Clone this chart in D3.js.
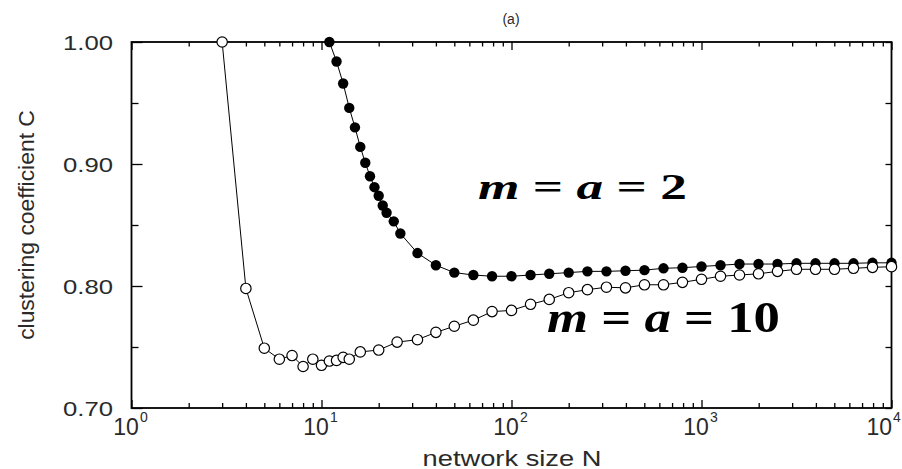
<!DOCTYPE html>
<html>
<head>
<meta charset="utf-8">
<script src="https://cdn.jsdelivr.net/npm/d3@7"></script>
<style>
  html, body { margin: 0; padding: 0; background: #fff; }
  svg { display: block; }
</style>
</head>
<body>
<svg id="chart" width="902" height="469"></svg>
<script>
// ---- data ----
const filledN = [11,12,13,14,15,16,17,18,19,20,21,22,24,26,32,40,
  50,63,79,100,126,158,200,251,316,398,501,631,794,1000,1259,1585,1995,2512,3162,3981,5012,6310,7943,10000];
const filledC = [1.000,0.984,0.966,0.946,0.930,0.914,0.901,0.890,0.881,0.874,0.866,0.860,0.853,0.843,0.827,0.817,
  0.811,0.809,0.808,0.808,0.809,0.810,0.811,0.812,0.812,0.8125,0.813,0.8145,0.815,0.816,0.817,0.818,0.818,0.818,0.8186,0.8186,0.8186,0.8186,0.819,0.819];

const openN = [3,4,5,6,7,8,9,10,11,12,13,14,16,20,25,32,40,
  50,63,79,100,126,158,200,251,316,398,501,631,794,1000,1259,1585,1995,2512,3162,3981,5012,6310,7943,10000];
const openC = [1.000,0.798,0.749,0.740,0.743,0.734,0.740,0.735,0.7385,0.739,0.7415,0.740,0.746,0.7475,0.754,0.756,0.762,
  0.767,0.772,0.779,0.780,0.785,0.789,0.7945,0.797,0.799,0.7985,0.801,0.801,0.803,0.8055,0.808,0.809,0.810,0.812,0.8137,0.8137,0.8137,0.8145,0.8153,0.8158];

const xMajorTicks = [1,10,100,1000,10000];
const xTickBase = ["10","10","10","10","10"];
const xTickExp = ["0","1","2","3","4"];
const xMinorTicks = [];
[1,10,100,1000].forEach(d => { for (let k = 2; k <= 9; k++) xMinorTicks.push(d*k); });
const yMajorTicks = [0.70,0.80,0.90,1.00];
const yTickLabels = ["0.70","0.80","0.90","1.00"];
const yMinorTicks = [0.75,0.85,0.95];

const xTitle = "network size N";
const yTitle = "clustering coefficient C";
const panelLabel = "(a)";

// ---- layout ----
const W = 902;
const L = 131.5, R = 891.5, T = 42, B = 408;
const svg = d3.select("#chart");
const x = d3.scaleLog().domain([1, 10000]).range([L, R]);
const y = d3.scaleLinear().domain([0.70, 1.00]).range([B, T]);

const textColor = "#2a2a2a";
const sans = "'Liberation Sans', Arial, sans-serif";

// helper: scale text horizontally to a target width
function fitWidth(sel, target, anchorX, baseY, anchor) {
  const w = sel.node().getBBox().width;
  const s = target / w;
  sel.attr("x", 0).attr("y", 0).attr("text-anchor", anchor || "start");
  sel.attr("transform", `translate(${anchorX},${baseY}) scale(${s},1)`);
}

// ---- axes (ticks inward) ----
function drawAxis(axis, transform) {
  const g = svg.append("g").attr("transform", transform).call(axis);
  g.select(".domain").remove();
  g.selectAll("text").remove();
  g.selectAll("line").attr("stroke", "#000").attr("stroke-width", 1.3);
  return g;
}
drawAxis(d3.axisBottom(x).tickValues(xMajorTicks).tickSize(-8), `translate(0,${B})`);
drawAxis(d3.axisBottom(x).tickValues(xMinorTicks).tickSize(-5), `translate(0,${B})`);
drawAxis(d3.axisTop(x).tickValues(xMajorTicks).tickSize(-8), `translate(0,${T})`);
drawAxis(d3.axisTop(x).tickValues(xMinorTicks).tickSize(-4.5), `translate(0,${T})`);
drawAxis(d3.axisLeft(y).tickValues(yMajorTicks).tickSize(-11), `translate(${L},0)`);
drawAxis(d3.axisLeft(y).tickValues(yMinorTicks).tickSize(-7), `translate(${L},0)`);
drawAxis(d3.axisRight(y).tickValues(yMajorTicks).tickSize(-6), `translate(${R},0)`);
drawAxis(d3.axisRight(y).tickValues(yMinorTicks).tickSize(-6), `translate(${R},0)`);

svg.append("rect").attr("x", L).attr("y", T).attr("width", R - L).attr("height", B - T)
  .attr("fill", "none").attr("stroke", "#000").attr("stroke-width", 1.8);

// ---- tick labels ----
yMajorTicks.forEach((v, i) => {
  const t = svg.append("text").attr("font-family", sans).attr("font-size", 21)
    .attr("fill", textColor).text(yTickLabels[i]);
  fitWidth(t, 50, 113, y(v) + 8, "end");
});
xMajorTicks.forEach((v, i) => {
  const t = svg.append("text").attr("font-family", sans).attr("font-size", 23)
    .attr("fill", textColor).attr("x", x(v) - 1).attr("y", 435).attr("text-anchor", "middle");
  t.append("tspan").text(xTickBase[i]);
  t.append("tspan").attr("font-size", 14).attr("dy", -13).attr("dx", 1).text(xTickExp[i]);
  // keep the last label inside the picture
  const bb = t.node().getBBox();
  if (bb.x + bb.width > W - 1) t.attr("x", x(v) - 1 - (bb.x + bb.width - (W - 1)));
});

const xt = svg.append("text").attr("font-family", sans).attr("font-size", 22)
  .attr("fill", textColor).text(xTitle);
fitWidth(xt, 179, 512, 466, "middle");

const ytG = svg.append("g").attr("transform", "translate(34,225) rotate(-90)");
const yt = ytG.append("text").attr("font-family", sans).attr("font-size", 22)
  .attr("fill", textColor).text(yTitle);
fitWidth(yt, 230, 0, 0, "middle");

svg.append("text").attr("font-family", sans).attr("font-size", 14).attr("fill", textColor)
  .attr("x", 511).attr("y", 24).attr("text-anchor", "middle").text(panelLabel);

// ---- series ----
const filled = filledN.map((n, i) => ({n, c: filledC[i]}));
const open = openN.map((n, i) => ({n, c: openC[i]}));
const line = d3.line().x(d => x(d.n)).y(d => y(d.c));

svg.append("path").datum(filled).attr("d", line).attr("fill", "none").attr("stroke", "#000").attr("stroke-width", 1);
svg.append("path").datum(open).attr("d", line).attr("fill", "none").attr("stroke", "#000").attr("stroke-width", 1);

svg.append("g").selectAll("circle").data(filled).join("circle")
  .attr("cx", d => x(d.n)).attr("cy", d => y(d.c)).attr("r", 5.2).attr("fill", "#000");
svg.append("g").selectAll("circle").data(open).join("circle")
  .attr("cx", d => x(d.n)).attr("cy", d => y(d.c)).attr("r", 5.2)
  .attr("fill", "#fff").attr("stroke", "#000").attr("stroke-width", 1.2);

// ---- annotations ----
function mathLabel(parts, size, left, width, base) {
  const t = svg.append("text").attr("font-family", "'Liberation Serif', 'Times New Roman', serif")
    .attr("font-size", size).attr("font-weight", "bold").attr("fill", "#000")
    .attr("xml:space", "preserve");
  parts.forEach(p => {
    t.append("tspan").attr("font-style", p.it ? "italic" : "normal").text(p.s);
  });
  fitWidth(t, width, left, base, "start");
}
mathLabel([{s:"m", it:true},{s:" = "},{s:"a", it:true},{s:" = 2"}], 36, 478, 209, 199);
mathLabel([{s:"m", it:true},{s:" = "},{s:"a", it:true},{s:" = 10"}], 44, 547, 233, 332);
</script>
</body>
</html>
